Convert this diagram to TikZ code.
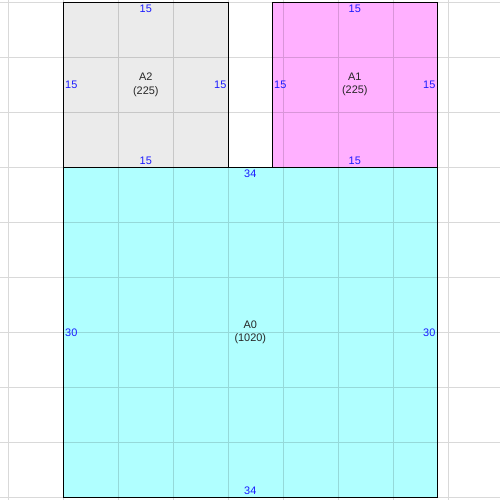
\documentclass[tikz,border=0pt]{standalone}
\usepackage{fontspec}
\setmainfont{Liberation Sans}
\usetikzlibrary{positioning}
\definecolor{roomgray}{HTML}{EBEBEB}
\definecolor{roompink}{HTML}{FFB0FF}
\definecolor{roomcyan}{HTML}{B0FFFF}
\definecolor{dimblue}{HTML}{1A1AFF}
\tikzset{
  wall/.style={draw=black,line width=1.3pt},
  gridline/.style={draw=black,opacity=0.15,line width=0.9pt},
  dimlabel/.style={text=dimblue,font=\fontsize{11.3}{13}\selectfont,inner xsep=1.8pt,inner ysep=2.6pt},
  roomlabel/.style={align=center,font=\fontsize{11.3}{13.5}\selectfont,text=black!85}
}
\begin{document}
\begin{tikzpicture}[x=0.4cm,y=0.4cm]
      \useasboundingbox (-5.755,-0.245) rectangle (39.70,45.21); % page
      \fill[roomcyan] (0,0) rectangle (34,30); % A0 fill
      \fill[roomgray] (0,30) rectangle (15,45); % A2 fill
      \fill[roompink] (19,30) rectangle (34,45); % A1 fill
      \draw[gridline,step=5] (-5.755,-0.245) grid (39.70,45.21); % grid
      \draw[wall] (0,0) rectangle (34,30); % A0 outline
      \draw[wall] (0,30) rectangle (15,45); % A2 outline
      \draw[wall] (19,30) rectangle (34,45); % A1 outline
      \node[roomlabel] (a2name) at (7.5,37.5) {A2\\(225)}; % A2 label
      \node[dimlabel,below] (a2top) at (7.5,45) {15}; % A2 top
      \node[dimlabel,above] (a2bottom) at (7.5,30) {15}; % A2 bottom
      \node[dimlabel,right] (a2left) at (0,37.5) {15}; % A2 left
      \node[dimlabel,left] (a2right) at (15,37.5) {15}; % A2 right
      \node[roomlabel] (a1name) at (26.5,37.5) {A1\\(225)}; % A1 label
      \node[dimlabel,below] (a1top) at (26.5,45) {15}; % A1 top
      \node[dimlabel,above] (a1bottom) at (26.5,30) {15}; % A1 bottom
      \node[dimlabel,right] (a1left) at (19,37.5) {15}; % A1 left
      \node[dimlabel,left] (a1right) at (34,37.5) {15}; % A1 right
      \node[roomlabel] (a0name) at (17,15) {A0\\(1020)}; % A0 label
      \node[dimlabel,below] (a0top) at (17,30) {34}; % A0 top
      \node[dimlabel,above] (a0bottom) at (17,0) {34}; % A0 bottom
      \node[dimlabel,right] (a0left) at (0,15) {30}; % A0 left
      \node[dimlabel,left] (a0right) at (34,15) {30}; % A0 right
\end{tikzpicture}
\end{document}
